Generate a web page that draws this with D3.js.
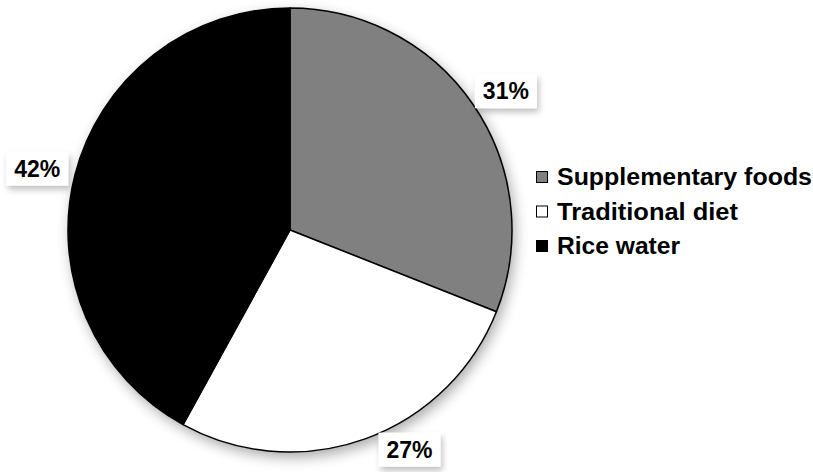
<!DOCTYPE html>
<meta charset="utf-8">
<style>
body { margin: 0; background: #fff; }
svg { display: block; background: #fff; }
.lbl text, .legend text {
  font-family: "Liberation Sans", Arial, sans-serif;
  font-weight: bold;
  fill: #000;
}
</style>
<body>
<div id="pie"></div>
<script src="https://cdnjs.cloudflare.com/ajax/libs/d3/7.8.5/d3.min.js"></script>
<script>
var categories = ["Supplementary foods", "Traditional diet", "Rice water"];
var values = [31, 27, 42];
var labels = ["31%", "27%", "42%"];
var colors = ["#808080", "#ffffff", "#000000"];

var width = 813, height = 472,
    cx = 290, cy = 230, radius = 222;

var svg = d3.select("#pie").append("svg")
    .attr("width", width)
    .attr("height", height);

var defs = svg.append("defs");
var sh = defs.append("filter").attr("id", "shadow")
    .attr("x", "-20%").attr("y", "-20%").attr("width", "140%").attr("height", "140%");
sh.append("feGaussianBlur").attr("in", "SourceAlpha").attr("stdDeviation", 7);
sh.append("feOffset").attr("dx", 3).attr("dy", 5).attr("result", "b");
sh.append("feComponentTransfer").append("feFuncA").attr("type", "linear").attr("slope", 0.35);
var m = sh.append("feMerge");
m.append("feMergeNode");
m.append("feMergeNode").attr("in", "SourceGraphic");

var sh2 = defs.append("filter").attr("id", "shadow2")
    .attr("x", "-30%").attr("y", "-30%").attr("width", "160%").attr("height", "180%");
sh2.append("feGaussianBlur").attr("in", "SourceAlpha").attr("stdDeviation", 3);
sh2.append("feOffset").attr("dx", 2).attr("dy", 4).attr("result", "b");
sh2.append("feComponentTransfer").append("feFuncA").attr("type", "linear").attr("slope", 0.25);
var m2 = sh2.append("feMerge");
m2.append("feMergeNode");
m2.append("feMergeNode").attr("in", "SourceGraphic");

var pie = d3.pie().sort(null).value(function(d) { return d; });
var arcs = pie(values);
var arc = d3.arc().innerRadius(0).outerRadius(radius);

var g = svg.append("g")
    .attr("transform", "translate(" + cx + "," + cy + ")");

g.append("circle")
    .attr("r", radius)
    .attr("fill", "#fff")
    .attr("filter", "url(#shadow)");

g.selectAll("path.slice")
    .data(arcs)
  .enter().append("path")
    .attr("class", "slice")
    .attr("d", arc)
    .attr("fill", function(d, i) { return colors[i]; })
    .attr("stroke", "#000")
    .attr("stroke-width", 1.5)
    .attr("stroke-linejoin", "round");

// data labels, outside end, slid along the rim if they would leave the chart
var fs = 23, boxH = 34, pad = 8;
var lbl = svg.append("g").attr("class", "lbl");
arcs.forEach(function(d, i) {
  var t = lbl.append("text").attr("font-size", fs).attr("text-anchor", "middle").text(labels[i]);
  var w = t.node().getComputedTextLength() + 16;
  var mid = (d.startAngle + d.endAngle) / 2;
  function place(a) {
    var ux = Math.sin(a), uy = -Math.cos(a);
    var ax = cx + (radius + pad) * ux, ay = cy + (radius + pad) * uy;
    return [ax + ux * w / 2, ay + uy * boxH / 2];
  }
  var p = place(mid), a = mid, step = 0;
  var dir = Math.cos(mid) < 0 ? -1 : 1;
  while ((p[1] + boxH / 2 > height - 5 || p[1] - boxH / 2 < 0) && step < 60) {
    a += dir * 0.005;
    p = place(a);
    step++;
  }
  p[0] = Math.max(w / 2, Math.min(width - w / 2, p[0]));
  lbl.insert("rect", "text:last-of-type")
    .attr("x", p[0] - w / 2).attr("y", p[1] - boxH / 2)
    .attr("width", w).attr("height", boxH)
    .attr("fill", "#fff")
    .attr("filter", "url(#shadow2)");
  t.attr("x", p[0]).attr("y", p[1] + fs * 0.36);
  t.raise();
});

// legend
var legend = svg.append("g").attr("class", "legend")
    .attr("transform", "translate(536,177)");
var row = legend.selectAll("g")
    .data(categories)
  .enter().append("g")
    .attr("transform", function(d, i) { return "translate(0," + i * 34.5 + ")"; });
row.append("rect")
    .attr("x", 0.5).attr("y", -5.5)
    .attr("width", 11).attr("height", 11)
    .attr("fill", function(d, i) { return colors[i]; })
    .attr("stroke", "#000")
    .attr("stroke-width", 1);
var legendLen = [255, 181, 123];
row.append("text")
    .attr("x", 21)
    .attr("y", 8)
    .attr("font-size", fs)
    .attr("textLength", function(d, i) { return legendLen[i]; })
    .attr("lengthAdjust", "spacingAndGlyphs")
    .text(function(d) { return d; });
</script>
